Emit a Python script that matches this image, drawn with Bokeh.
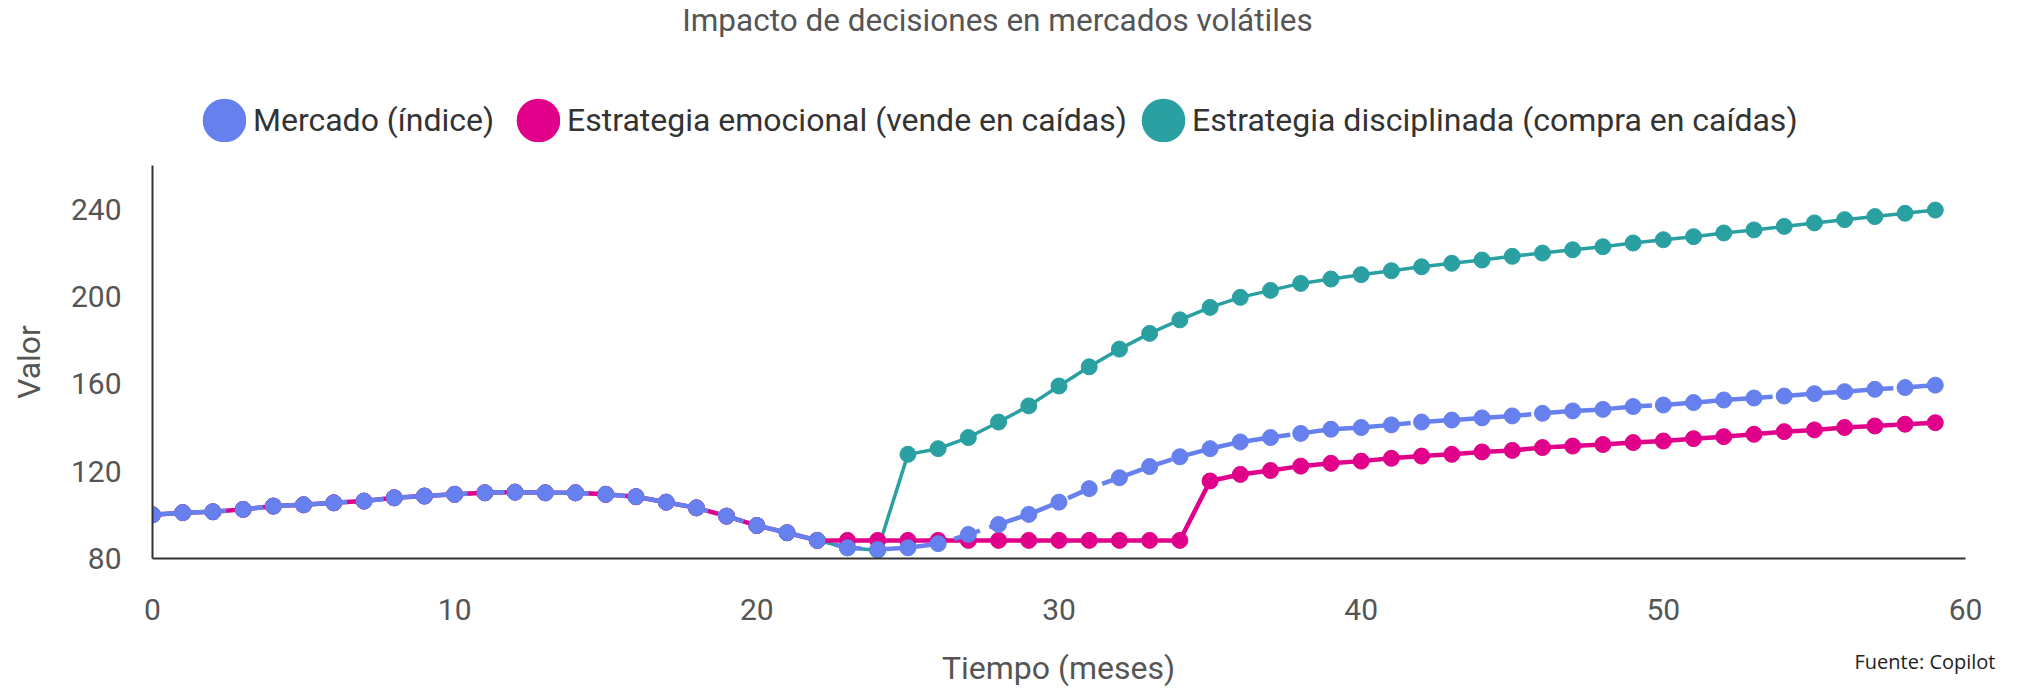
from bokeh.plotting import figure
from bokeh.layouts import column
from bokeh.models import Legend, LegendItem, Label, FixedTicker, Range1d, ColumnDataSource
from bokeh.embed import file_html
from bokeh.resources import INLINE

# ---------------- data ----------------
months = list(range(60))

mercado = [100.0, 101.0, 101.4, 102.5, 104.0, 104.6, 105.5, 106.3, 107.8, 108.6,
           109.4, 110.1, 110.4, 110.1, 110.1, 109.4, 108.3, 105.8, 103.2, 99.4,
           95.1, 91.8, 88.3, 84.9, 84.1, 84.9, 86.8, 91.0, 95.6, 100.2,
           105.8, 112.0, 117.0, 122.1, 126.6, 130.3, 133.4, 135.4, 137.3, 139.2,
           140.0, 141.2, 142.5, 143.4, 144.4, 145.3, 146.5, 147.6, 148.3, 149.6,
           150.3, 151.4, 152.6, 153.5, 154.4, 155.5, 156.4, 157.5, 158.3, 159.4]

emocional = [100.0, 101.0, 101.4, 102.5, 104.0, 104.6, 105.5, 106.3, 107.8, 108.6,
             109.4, 110.1, 110.4, 110.1, 110.1, 109.4, 108.3, 105.8, 103.2, 99.4,
             95.1, 91.8, 88.3, 88.3, 88.3, 88.3, 88.3, 88.3, 88.3, 88.3,
             88.3, 88.3, 88.3, 88.3, 88.3, 115.5, 118.5, 120.3, 122.3, 123.6,
             124.6, 125.9, 126.9, 127.7, 128.8, 129.5, 130.8, 131.5, 132.2, 133.1,
             133.8, 134.9, 135.8, 136.9, 138.1, 138.9, 140.0, 140.7, 141.5, 142.2]

disciplinada = [100.0, 101.0, 101.4, 102.5, 104.0, 104.6, 105.5, 106.3, 107.8, 108.6,
                109.4, 110.1, 110.4, 110.1, 110.1, 109.4, 108.3, 105.8, 103.2, 99.4,
                95.1, 91.8, 88.3, 84.9, 83.8, 127.7, 130.3, 135.4, 142.5, 149.9,
                159.0, 167.8, 175.9, 183.1, 189.3, 195.0, 199.6, 202.8, 206.0, 208.0,
                210.0, 211.8, 213.6, 215.2, 216.7, 218.4, 219.9, 221.4, 222.8, 224.5,
                226.0, 227.4, 229.1, 230.5, 232.1, 233.7, 235.2, 236.6, 238.1, 239.6]

series_names = ["Mercado (índice)",
                "Estrategia emocional (vende en caídas)",
                "Estrategia disciplinada (compra en caídas)"]
x_ticks = [0, 10, 20, 30, 40, 50, 60]
y_ticks = [80, 120, 160, 200, 240]
title_text = "Impacto de decisiones en mercados volátiles"
x_title = "Tiempo (meses)"
y_title = "Valor"
source_text = "Fuente: Copilot"

# ---------------- style ----------------
FONT = "Roboto"
BLUE = "#6680EE"
PINK = "#E0008A"
TEAL = "#2AA0A2"
TEXT = "#555555"
W = 2031
NAN = float("nan")


def blank(height):
    f = figure(width=W, height=height, output_backend="svg", toolbar_location=None,
               x_range=Range1d(0, W), y_range=Range1d(0, height),
               min_border=0, x_axis_type=None, y_axis_type=None, frame_align=False)
    f.outline_line_color = None
    f.grid.visible = False
    return f


# ---------- header: title + legend ----------
HA = 150
head = blank(HA)
head.add_layout(Label(x=997, y=HA - 20, text=title_text, text_align="center",
                      text_baseline="middle", text_font=FONT, text_font_size="31.5px",
                      text_color=TEXT))
# legend swatch centres (canvas px); 44 px swatch = small marker + wide outline
swatch_center = [224, 538, 1163]
for name, color, cx in zip(series_names, [BLUE, PINK, TEAL], swatch_center):
    r = head.scatter(x=[NAN], y=[NAN], marker="circle", size=18, line_width=26,
                     fill_color=color, line_color=color)
    leg = Legend(items=[LegendItem(label=name, renderers=[r])],
                 location=(cx - 22, 8), orientation="horizontal",
                 glyph_width=44, glyph_height=44, label_height=44,
                 padding=0, margin=0, label_standoff=7,
                 border_line_color=None, background_fill_alpha=0,
                 label_text_font=FONT, label_text_font_size="32px",
                 label_text_color="#333333", label_text_baseline="middle")
    head.add_layout(leg, "center")

# ---------- main chart ----------
src = ColumnDataSource(dict(x=months, m=mercado, e=emocional, d=disciplinada))

HB = 494
p = figure(width=W, height=HB, output_backend="svg", toolbar_location=None,
           x_range=Range1d(0, 60), y_range=Range1d(80, 260),
           min_border_left=152, min_border_right=66,
           min_border_top=15, min_border_bottom=86, frame_align=False)
p.outline_line_color = None
p.grid.visible = False

for ax in (p.xaxis, p.yaxis):
    ax.major_tick_line_color = None
    ax.minor_tick_line_color = None
    ax.major_tick_out = 0
    ax.major_tick_in = 0
    ax.axis_line_color = "#333333"
    ax.axis_line_width = 2
    ax.major_label_text_font = FONT
    ax.major_label_text_font_size = "30px"
    ax.major_label_text_color = TEXT
    ax.axis_label_text_font = FONT
    ax.axis_label_text_font_size = "32px"
    ax.axis_label_text_font_style = "normal"
    ax.axis_label_text_color = TEXT

p.xaxis.ticker = FixedTicker(ticks=x_ticks)
p.yaxis.ticker = FixedTicker(ticks=y_ticks)
p.yaxis.axis_label = y_title
p.xaxis.major_label_standoff = 40
p.yaxis.major_label_standoff = 31
p.yaxis.axis_label_standoff = 20

# series: teal bottom, pink middle, blue (dashed) on top
p.line("x", "d", source=src, line_color=TEAL, line_width=3.5, line_join="round")
p.scatter("x", "d", source=src, size=16, fill_color=TEAL, line_color=TEAL)
p.line("x", "e", source=src, line_color=PINK, line_width=4.5, line_join="round")
p.scatter("x", "e", source=src, size=16, fill_color=PINK, line_color=PINK)
p.line("x", "m", source=src, line_color=BLUE, line_width=4.5, line_join="round",
       line_dash="74 10 27 10")
p.scatter("x", "m", source=src, size=16, fill_color=BLUE, line_color=BLUE)

# ---------- footer: x-axis title + source ----------
HC = 44
foot = blank(HC)
foot.add_layout(Label(x=1058, y=HC - 23, text=x_title, text_align="center",
                      text_baseline="middle", text_font=FONT, text_font_size="32px",
                      text_color=TEXT))
foot.add_layout(Label(x=1995, y=HC - 17, text=source_text, text_align="right",
                      text_baseline="middle", text_font="Open Sans", text_font_size="20px",
                      text_color="#222222"))

layout = column(head, p, foot, spacing=0)
open("out.html", "w").write(file_html(layout, INLINE))
